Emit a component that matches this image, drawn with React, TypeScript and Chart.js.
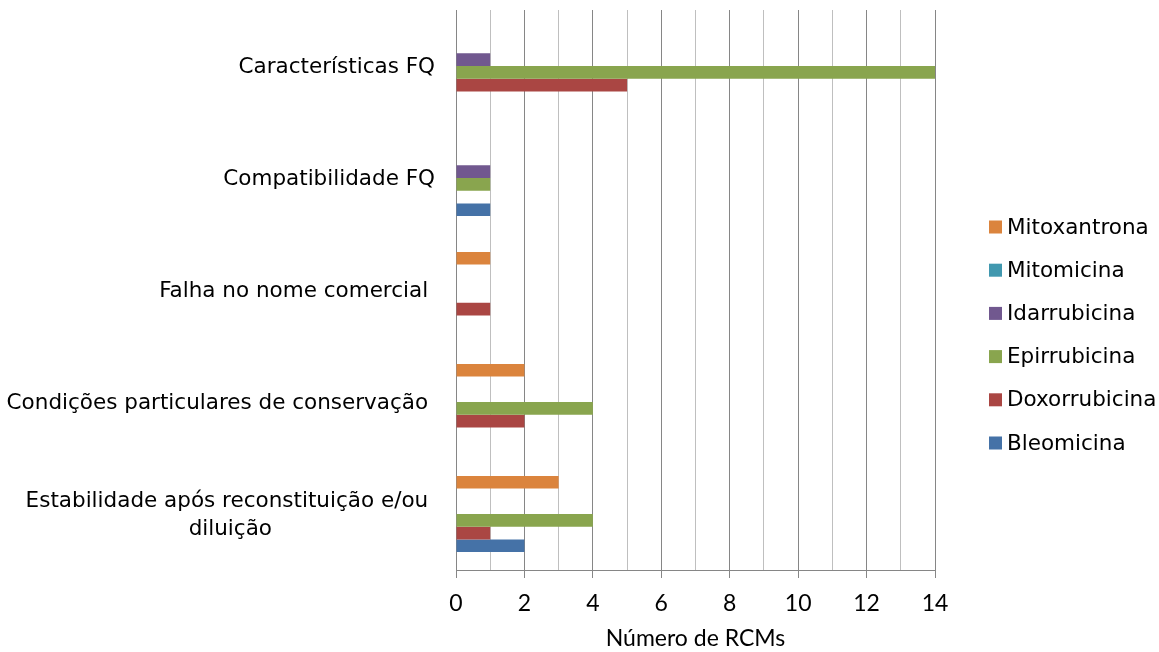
import { useEffect, useRef } from 'react';
import { Chart, registerables } from 'chart.js';

Chart.register(...registerables);

const FONT = '"DejaVu Sans", sans-serif';
const FONT_SIZE = 21.5;
const AXIS_FONT = 'Lato, "DejaVu Sans", sans-serif';
const AXIS_FONT_SIZE = 23;

// Problem categories, top to bottom
const categories: (string | string[])[] = [
  'Características FQ',
  'Compatibilidade FQ',
  'Falha no nome comercial ',
  'Condições particulares de conservação ',
  ['Estabilidade após reconstituição e/ou ', 'diluição'],
];

const seriesNames = ['Mitoxantrona', 'Mitomicina', 'Idarrubicina', 'Epirrubicina', 'Doxorrubicina', 'Bleomicina'];
const seriesColors = ['#DB843D', '#4198AF', '#71588F', '#89A54E', '#AA4643', '#4572A7'];

// Number of RCMs per category for each drug
const mitoxantrona = [0, 0, 1, 2, 3];
const mitomicina = [0, 0, 0, 0, 0];
const idarrubicina = [1, 1, 0, 0, 0];
const epirrubicina = [14, 1, 0, 4, 4];
const doxorrubicina = [5, 0, 1, 2, 1];
const bleomicina = [0, 1, 0, 0, 2];

const seriesValues = [mitoxantrona, mitomicina, idarrubicina, epirrubicina, doxorrubicina, bleomicina];

const xMin = 0;
const xMax = 14;
const xStep = 1;
const xLabelEvery = 2;
const xTitle = 'Número de RCMs';

const MAJOR_GRID = '#868686';
const MINOR_GRID = '#BFBFBF';

// Category labels: each block right-aligned beside the axis, wrapped lines centred within it
const categoryLabelPlugin = {
  id: 'categoryLabels',
  afterDraw(chart: any) {
    const { ctx, chartArea } = chart;
    const yScale = chart.scales.y;
    ctx.save();
    ctx.font = `${FONT_SIZE}px ${FONT}`;
    ctx.fillStyle = '#000';
    ctx.textAlign = 'center';
    ctx.textBaseline = 'middle';
    const right = chartArea.left - 21;
    const lineGap = 28;
    (chart.data.labels as (string | string[])[]).forEach((lab, i) => {
      const lines = Array.isArray(lab) ? lab : [lab];
      const w = Math.max(...lines.map((l) => ctx.measureText(l).width));
      const cx = right - w / 2;
      const cy = yScale.getPixelForTick(i) + 1;
      lines.forEach((l, j) => {
        ctx.fillText(l, cx, cy + (j - (lines.length - 1) / 2) * lineGap);
      });
    });
    ctx.restore();
  },
};

// Series key on the right-hand side
const sideLegendPlugin = {
  id: 'sideLegend',
  afterDraw(chart: any) {
    const { ctx, chartArea } = chart;
    ctx.save();
    ctx.font = `${FONT_SIZE}px ${FONT}`;
    ctx.textAlign = 'left';
    ctx.textBaseline = 'middle';
    const x = chartArea.right + 54;
    const y0 = 227;
    const step = 43.2;
    const box = 13;
    chart.data.datasets.forEach((ds: any, i: number) => {
      const cy = y0 + i * step;
      ctx.fillStyle = ds.backgroundColor;
      ctx.fillRect(x, cy - box / 2, box, box);
      ctx.fillStyle = '#000';
      ctx.fillText(ds.label, x + 18, cy + 1);
    });
    ctx.restore();
  },
};

export default function App() {
  const canvasRef = useRef<HTMLCanvasElement | null>(null);

  useEffect(() => {
    if (!canvasRef.current) return;
    Chart.defaults.font.family = FONT;
    Chart.defaults.font.size = FONT_SIZE;
    Chart.defaults.color = '#000';

    const chart = new Chart(canvasRef.current, {
      type: 'bar',
      data: {
        labels: categories as any,
        datasets: seriesNames.map((name, i) => ({
          label: name,
          data: seriesValues[i],
          backgroundColor: seriesColors[i],
          borderWidth: 0,
          categoryPercentage: 0.68,
          barPercentage: 1,
        })),
      },
      options: {
        indexAxis: 'y',
        animation: false,
        responsive: true,
        maintainAspectRatio: false,
        layout: { padding: { top: 10, right: 224, bottom: 0, left: 0 } },
        plugins: {
          legend: { display: false },
          tooltip: { enabled: false },
        },
        scales: {
          x: {
            type: 'linear',
            min: xMin,
            max: xMax,
            afterFit: (s: any) => {
              s.height = 82;
            },
            ticks: {
              stepSize: xStep,
              autoSkip: false,
              maxRotation: 0,
              padding: 12,
              color: '#000',
              font: { family: AXIS_FONT, size: AXIS_FONT_SIZE },
              callback: (v: any) => (Number(v) % xLabelEvery === 0 ? String(v) : ''),
            },
            grid: {
              lineWidth: 1,
              tickLength: 8,
              color: (c: any) => (c.tick && c.tick.value % xLabelEvery === 0 ? MAJOR_GRID : MINOR_GRID),
              tickColor: (c: any) =>
                c.tick && c.tick.value % xLabelEvery === 0 ? MAJOR_GRID : 'rgba(0,0,0,0)',
            },
            border: { display: true, color: MAJOR_GRID, width: 1 },
            title: {
              display: true,
              text: xTitle,
              color: '#000',
              font: { family: AXIS_FONT, size: AXIS_FONT_SIZE, lineHeight: 1 },
              padding: { top: 0, bottom: 2 },
            },
          },
          y: {
            type: 'category',
            offset: true,
            afterFit: (s: any) => {
              s.width = 456;
            },
            ticks: { display: false },
            grid: { display: false },
            border: { display: true, color: MAJOR_GRID, width: 1 },
          },
        },
      },
      plugins: [categoryLabelPlugin, sideLegendPlugin],
    });

    return () => chart.destroy();
  }, []);

  return (
    <div style={{ position: 'absolute', left: 0, top: 0, width: 1159, height: 652 }}>
      <canvas ref={canvasRef} />
    </div>
  );
}
